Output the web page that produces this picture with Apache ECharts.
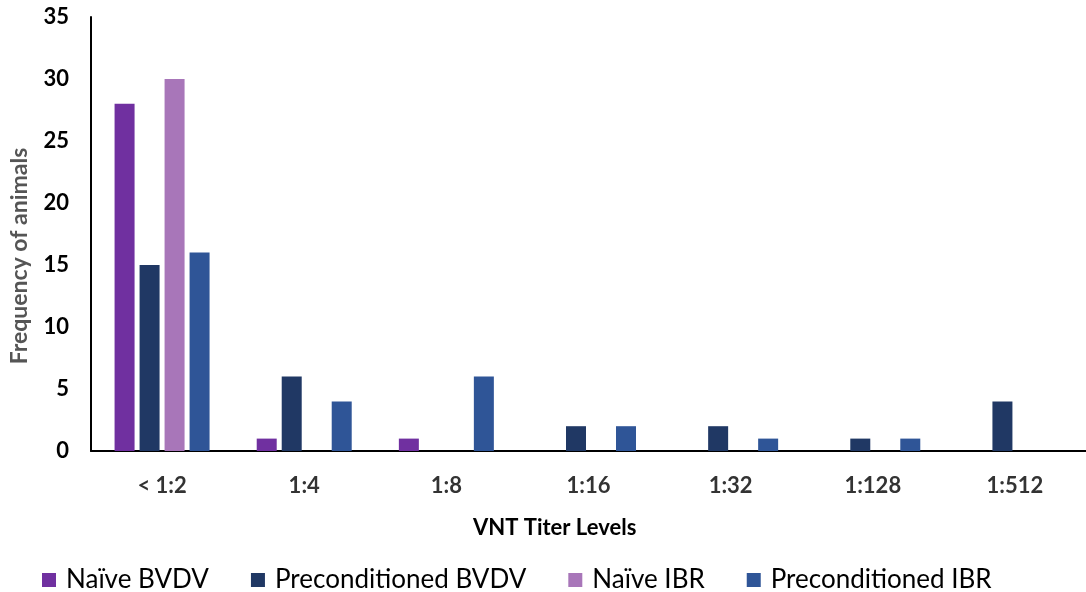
<!DOCTYPE html>
<html><head><meta charset="utf-8">
<script src="https://cdn.jsdelivr.net/npm/echarts@6/dist/echarts.min.js"></script>
<style>html,body{margin:0;padding:0;background:#fff}#c{width:1086px;height:592px}</style>
</head><body><div id="c"></div>
<script>
const categories = ['< 1:2', '1:4', '1:8', '1:16', '1:32', '1:128', '1:512'];
const naiveBVDV = [28, 1, 1, 0, 0, 0, 0];
const precondBVDV = [15, 6, 0, 2, 2, 1, 4];
const naiveIBR = [30, 0, 0, 0, 0, 0, 0];
const precondIBR = [16, 4, 6, 2, 1, 1, 0];
const yTicks = [0, 5, 10, 15, 20, 25, 30, 35];

const font = 'Lato, "Open Sans", sans-serif';
const chart = echarts.init(document.getElementById('c'));
function s(name, data, color) {
  return { name, type: 'bar', data: data.map(v => v === 0 ? null : v), barWidth: 20, barGap: '25%',
    itemStyle: { color } };
}
chart.setOption({
  animation: false,
  textStyle: { fontFamily: font },
  grid: { left: 91, right: 0, top: 17, bottom: 141, containLabel: false, outerBoundsMode: 'none' },
  title: { text: 'VNT Titer Levels', left: 468, top: 512,
    textStyle: { fontFamily: font, fontSize: 22, fontWeight: 'bold', color: '#000' } },
  legend: {
    left: 37, top: 562, itemWidth: 14, itemHeight: 14, itemGap: 42,
    icon: 'rect',
    textStyle: { fontFamily: font, fontSize: 26, color: '#000', padding: [0,0,0,5] },
    data: ['Naïve BVDV', 'Preconditioned BVDV', 'Naïve IBR', 'Preconditioned IBR']
  },
  xAxis: {
    type: 'category', data: categories,
    axisLine: { lineStyle: { color: '#000', width: 2 } },
    axisTick: { show: false },
    axisLabel: { margin: 24, fontSize: 22, fontWeight: 'bold', color: '#333', fontFamily: font }
  },
  yAxis: {
    type: 'value', min: 0, max: 35, interval: 5,
    name: 'Frequency of animals', nameLocation: 'middle', nameGap: 60,
    nameTextStyle: { fontSize: 23, fontWeight: 'bold', color: '#555', fontFamily: font, padding: [0, 44, 0, 0] },
    axisLine: { show: true, lineStyle: { color: '#000', width: 2 } },
    axisTick: { show: false },
    splitLine: { show: false },
    axisLabel: { margin: 22, fontSize: 22, fontWeight: 'bold', color: '#000', fontFamily: font,
      formatter: v => yTicks.includes(v) ? String(v) : '' }
  },
  series: [
    s('Naïve BVDV', naiveBVDV, '#7030A0'),
    s('Preconditioned BVDV', precondBVDV, '#203864'),
    s('Naïve IBR', naiveIBR, '#A876B9'),
    s('Preconditioned IBR', precondIBR, '#2F5597')
  ]
});
</script></body></html>
